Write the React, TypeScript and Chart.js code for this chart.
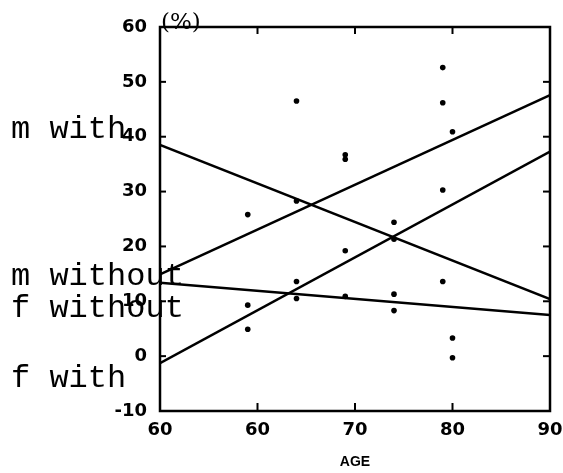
import React, { useEffect, useRef } from "react";
import { Chart, registerables } from "chart.js";

Chart.register(...registerables);

// ---- data ----
const xTickLabels = ["60", "60", "70", "80", "90"];
const dotAges = [59, 59, 59, 64, 64, 64, 64, 69, 69, 69, 69, 74, 74, 74, 74, 79, 79, 79, 79, 80, 80, 80];
const dotPercents = [25.8, 9.3, 4.9, 46.5, 28.3, 13.6, 10.5, 36.7, 35.9, 19.2, 10.9, 24.4, 21.3, 11.3, 8.3, 52.6, 46.2, 30.3, 13.6, 40.9, 3.3, -0.3];
const lineAges = [50, 90];
const mWith = [38.5, 10.4];
const mWithout = [14.9, 47.6];
const fWithout = [13.4, 7.5];
const fWith = [-1.3, 37.3];
const seriesLabels = ["m with", "m without", "f without", "f with"];
const yUnit = "(%)";
const xTitle = "AGE";

// ---- layout / style (not data) ----
const labelAnchors = [
  [11, 138],
  [11, 285],
  [11, 317],
  [11, 387],
];

const toPoints = (xs: number[], ys: number[]) => xs.map((x, i) => ({ x, y: ys[i] }));

const framePlugin = {
  id: "frame",
  afterDraw(chart: any) {
    const { ctx, chartArea, scales } = chart;
    const { left, right, top, bottom } = chartArea;
    const x = scales.x;
    const y = scales.y;
    ctx.save();
    ctx.strokeStyle = "#000";
    ctx.fillStyle = "#000";
    ctx.lineWidth = 2.5;
    ctx.strokeRect(left, top, right - left, bottom - top);
    ctx.lineWidth = 2;
    const seg = (x1: number, y1: number, x2: number, y2: number) => {
      ctx.beginPath();
      ctx.moveTo(x1, y1);
      ctx.lineTo(x2, y2);
      ctx.stroke();
    };
    y.ticks.forEach((t: any) => {
      const py = y.getPixelForValue(t.value);
      seg(left, py, left + 6, py);
      seg(right, py, right - 7, py);
    });
    x.ticks.forEach((t: any) => {
      const px = x.getPixelForValue(t.value);
      seg(px, top, px, top + 7);
      seg(px, bottom, px, bottom - 8);
    });
    ctx.font = '23px "DejaVu Serif"';
    ctx.textAlign = "left";
    ctx.textBaseline = "alphabetic";
    ctx.fillText(yUnit, left + 1, top + 2);
    ctx.font = '32px "Liberation Mono"';
    seriesLabels.forEach((s, i) => {
      ctx.fillText(s, labelAnchors[i][0], labelAnchors[i][1]);
    });
    ctx.restore();
  },
};

export default function App() {
  const ref = useRef<HTMLCanvasElement | null>(null);
  useEffect(() => {
    if (!ref.current) return;
    const lineStyle = {
      showLine: true,
      borderColor: "#000",
      borderWidth: 2.5,
      pointRadius: 0,
      fill: false,
    };
    const tickFont = { family: "DejaVu Sans", weight: "bold" as const, size: 18 };
    const chart = new Chart(ref.current, {
      type: "scatter",
      data: {
        datasets: [
          {
            label: "points",
            data: toPoints(dotAges, dotPercents),
            backgroundColor: "#000",
            borderColor: "#000",
            pointRadius: 2.8,
            borderWidth: 0,
          },
          { label: seriesLabels[0], data: toPoints(lineAges, mWith), ...lineStyle },
          { label: seriesLabels[1], data: toPoints(lineAges, mWithout), ...lineStyle },
          { label: seriesLabels[2], data: toPoints(lineAges, fWithout), ...lineStyle },
          { label: seriesLabels[3], data: toPoints(lineAges, fWith), ...lineStyle },
        ] as any,
      },
      options: {
        animation: false,
        responsive: false,
        layout: { padding: { top: 27, right: 13, left: 0, bottom: 0 } },
        plugins: { legend: { display: false }, tooltip: { enabled: false } },
        scales: {
          x: {
            type: "linear",
            min: 50,
            max: 90,
            afterFit: (s: any) => {
              s.height = 62;
              s.paddingLeft = 0;
              s.paddingRight = 0;
            },
            grid: { display: false, drawTicks: false },
            border: { display: false },
            ticks: {
              stepSize: 10,
              color: "#000",
              font: tickFont,
              padding: 9,
              maxRotation: 0,
              callback: (_v: any, i: number) => xTickLabels[i],
            },
            title: {
              display: true,
              text: xTitle,
              color: "#000",
              font: { family: "Liberation Sans", weight: "bold", size: 14 },
              padding: { top: 0, bottom: 2 },
            },
          },
          y: {
            type: "linear",
            min: -10,
            max: 60,
            afterFit: (s: any) => {
              s.width = 160;
              s.paddingTop = 0;
              s.paddingBottom = 0;
            },
            grid: { display: false, drawTicks: false },
            border: { display: false },
            ticks: { stepSize: 10, color: "#000", font: tickFont, padding: 13 },
          },
        },
      } as any,
      plugins: [framePlugin],
    });
    return () => chart.destroy();
  }, []);
  return (
    <div style={{ position: "fixed", left: 0, top: 0, width: 563, height: 473, background: "#fff" }}>
      <canvas ref={ref} width={563} height={473} style={{ display: "block" }} />
    </div>
  );
}
